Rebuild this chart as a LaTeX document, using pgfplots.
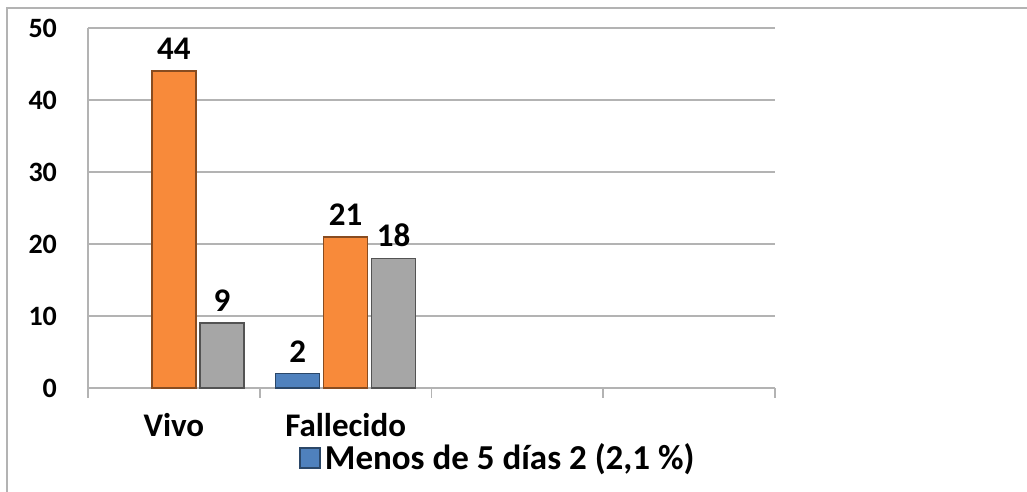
\documentclass[border=0pt]{standalone}
\usepackage{fontspec}
\setmainfont{Carlito}
\usepackage{pgfplots}
\pgfplotsset{compat=1.18}
\usetikzlibrary{calc}

\definecolor{barblue}{HTML}{4F81BD}
\definecolor{barorange}{HTML}{F88A3A}
\definecolor{bargray}{HTML}{A6A6A6}
\definecolor{gridgray}{HTML}{B3B3B3}

\begin{document}
\begin{tikzpicture}
  \begin{axis}[
      width=343.5pt, height=180pt, scale only axis,
      ybar, bar width=22pt,
      xmin=-0.5, xmax=3.5, ymin=0, ymax=50,
      ytick={0,10,...,50},
      yticklabels={\textbf{0},\textbf{10},\textbf{20},\textbf{30},\textbf{40},\textbf{50}},
      ymajorgrids, grid style={gridgray, line width=0.8pt},
      axis lines*=left,
      axis line style={gridgray, line width=0.8pt},
      xtick={-0.5,0.5,1.5,2.5,3.5}, xticklabels={},
      x tick style={gridgray, line width=0.8pt},
      major tick length=5pt, tick align=outside,
      y tick style={draw=none},
      extra x ticks={0,1}, extra x tick labels={\textbf{Vivo}, \textbf{Fallecido}},
      extra x tick style={major tick length=0pt, grid=none,
        tick label style={yshift=-9pt}},
      /pgf/number format/assume math mode=true,
      xticklabel style={font=\bfseries\fontsize{16.5}{18}\selectfont},
      yticklabel style={font=\bfseries\fontsize{14}{16}\selectfont, xshift=-7pt},
      nodes near coords,
      every node near coord/.append style={font=\bfseries\fontsize{16.5}{18}\selectfont,
        black, yshift=2pt},
      legend style={at={(rel axis cs:0.307,-0.195)}, anchor=west, draw=none,
        font=\bfseries\fontsize{17.5}{19}\selectfont, inner sep=0pt},
      legend image code/.code={\path[#1] (0pt,-5pt) rectangle (10pt,5pt);},
      clip=false,
    ]
    \addplot[fill=barblue, draw=barblue!55!black, line width=0.8pt] coordinates {(1,2)};
    \addlegendentry{Menos de 5 días 2 (2{,}1 \%)}
    \addplot[fill=barorange, draw=barorange!55!black, line width=0.8pt] coordinates {(0,44) (1,21)};
    \addplot[fill=bargray, draw=bargray!50!black, line width=0.8pt] coordinates {(0,9) (1,18)};
    \coordinate (bl) at (rel axis cs:0,0);
    \coordinate (tr) at (rel axis cs:1,1);
  \end{axis}
  \draw[gridgray, line width=0.6pt] ($(bl)+(-40.5pt,-52pt)$) |- ($(tr)+(126pt,10pt)$);
  \pgfresetboundingbox
  \useasboundingbox ($(bl)+(-44pt,-52pt)$) rectangle ($(tr)+(126pt,14pt)$);
\end{tikzpicture}
\end{document}
